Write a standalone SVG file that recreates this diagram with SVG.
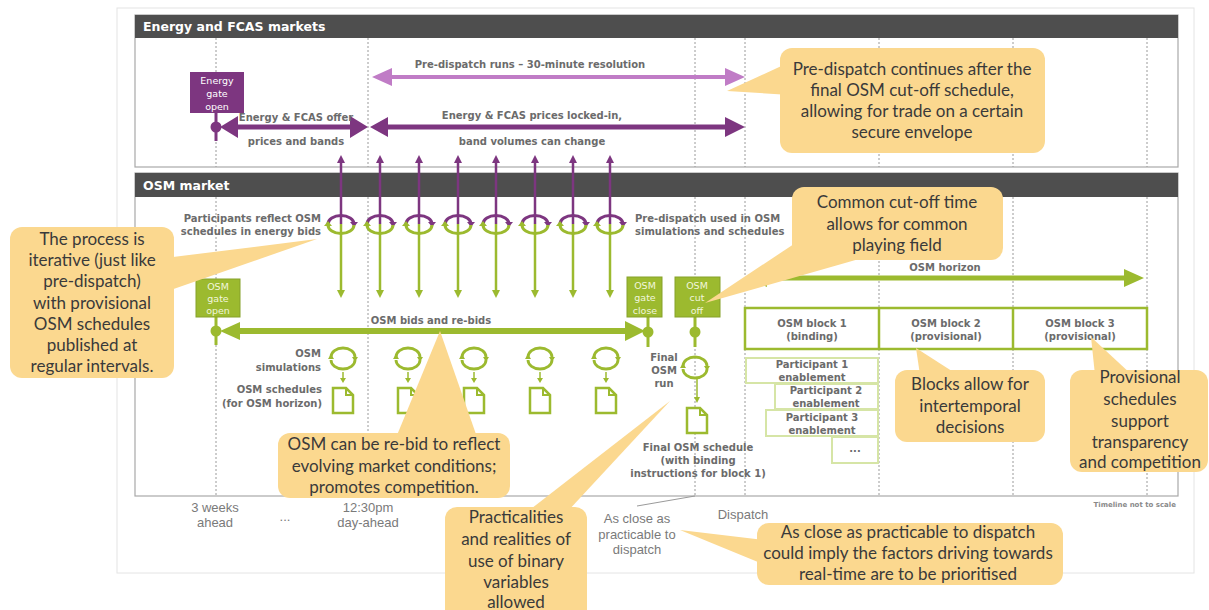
<svg xmlns="http://www.w3.org/2000/svg" xmlns:xlink="http://www.w3.org/1999/xlink" width="1209" height="610" viewBox="0 0 1209 610">
<style>
.lbl{font-family:"DejaVu Sans",Verdana,sans-serif;font-weight:bold;font-size:10px;fill:#6b6b6b}
.hdr{font-family:"DejaVu Sans",Verdana,sans-serif;font-weight:bold;font-size:12.5px;fill:#ffffff}
.box{font-family:"DejaVu Sans",Verdana,sans-serif;font-size:9.5px;fill:#f1f6dc}
.pbox{font-family:"DejaVu Sans",Verdana,sans-serif;font-size:9.5px;fill:#ffffff}
.tl{font-family:"Liberation Sans",Arial,sans-serif;font-size:13px;fill:#7a7a7a}
.co{font-family:Lato,"Liberation Sans",sans-serif;font-size:17px;fill:#3a3a3a}
.dash{stroke:#9a9a9a;stroke-width:1;stroke-dasharray:2,2}
.cof{fill:#fbd88f}
.grn{fill:#9cba2f}
.sect{fill:#ffffff;stroke:#a8a8a8;stroke-width:1.2}
.bar{fill:#4e4e4e}
</style>
<defs>
<g id="eye">
<path d="M-13,0 A13,8.5 0 0 1 13,0" fill="none" stroke="#7d3680" stroke-width="3"/>
<polygon points="9,-2 17,-2 13,3" fill="#7d3680"/>
<path d="M13,1 A13,8.5 0 0 1 -13,1" fill="none" stroke="#9cba2f" stroke-width="3"/>
<polygon points="-17,2 -9,2 -13,-3" fill="#9cba2f"/>
</g>
<g id="loop">
<path d="M-12,-1 A12,9 0 0 1 12,-1" fill="none" stroke="#9cba2f" stroke-width="2.8"/>
<path d="M12,2 A12,9 0 0 1 -12,2" fill="none" stroke="#9cba2f" stroke-width="2.8"/>
<polygon points="9,-1 15,-1 12,4" fill="#9cba2f"/>
<polygon points="-15,1 -9,1 -12,-4" fill="#9cba2f"/>
</g>
<g id="doc">
<path d="M0,0 H13 L20,7 V25 H0 Z" fill="#ffffff" stroke="#9cba2f" stroke-width="2.5" stroke-linejoin="miter"/>
<path d="M13,0 V7 H20" fill="none" stroke="#9cba2f" stroke-width="2"/>
</g>
<g id="darr">
<line x1="0" y1="-6" x2="0" y2="0" stroke="#9cba2f" stroke-width="1.5"/>
<polygon points="-3,0 3,0 0,5" fill="#9cba2f"/>
</g>
<g id="vup">
<line x1="0" y1="160" x2="0" y2="224" stroke="#7d3680" stroke-width="2.5"/>
<polygon points="-4,163 4,163 0,155" fill="#7d3680"/>
<line x1="0" y1="224" x2="0" y2="292" stroke="#9cba2f" stroke-width="2.5"/>
<polygon points="-4,290 4,290 0,298" fill="#9cba2f"/>
<use xlink:href="#eye" href="#eye" x="0" y="224"/>
</g>
</defs>

<rect x="117" y="8" width="1077" height="565" fill="#ffffff" stroke="#e4e4e4" stroke-width="1"/>

<g id="energy-section">
<rect class="sect" x="135" y="15" width="1043" height="152"/>
<rect class="bar" x="135" y="15" width="1043" height="23"/>
<text class="hdr" x="143" y="31">Energy and FCAS markets</text>
</g>
<g id="osm-section">
<rect class="sect" x="135" y="173" width="1043" height="323"/>
<rect class="bar" x="135" y="173" width="1043" height="24"/>
<text class="hdr" x="143" y="190">OSM market</text>
</g>

<g id="gridlines">
<line class="dash" x1="216" y1="38" x2="216" y2="167"/>
<line class="dash" x1="368" y1="38" x2="368" y2="167"/>
<line class="dash" x1="695" y1="38" x2="695" y2="167"/>
<line class="dash" x1="745" y1="38" x2="745" y2="167"/>
<line class="dash" x1="879" y1="38" x2="879" y2="167"/>
<line class="dash" x1="1013" y1="38" x2="1013" y2="167"/>
<line class="dash" x1="1147" y1="38" x2="1147" y2="167"/>
<line class="dash" x1="216" y1="197" x2="216" y2="496"/>
<line class="dash" x1="368" y1="197" x2="368" y2="496"/>
<line class="dash" x1="695" y1="197" x2="695" y2="496"/>
<line class="dash" x1="745" y1="197" x2="745" y2="496"/>
<line class="dash" x1="879" y1="197" x2="879" y2="496"/>
<line class="dash" x1="1013" y1="197" x2="1013" y2="496"/>
<line class="dash" x1="1147" y1="197" x2="1147" y2="496"/>
</g>

<g id="connectors">
<!-- pre-dispatch runs arrow -->
<polygon fill="#c07cc6" points="372,77 392,68 392,75 725,75 725,68 745,77 725,86 725,79 392,79 392,86"/>
<!-- offer prices arrow -->
<polygon fill="#7d3680" points="220,127 238,116 238,124.5 350,124.5 350,116 368,127 350,138 350,129.5 238,129.5 238,138"/>
<!-- prices locked-in arrow -->
<polygon fill="#7d3680" points="370,127 388,117 388,124.5 725,124.5 725,117 745,127 725,137 725,129.5 388,129.5 388,137"/>
<!-- energy gate open stem -->
<line x1="216" y1="113" x2="216" y2="141" stroke="#7d3680" stroke-width="3"/>
<circle cx="216" cy="127" r="5.5" fill="#7d3680"/>
<!-- vertical exchange arrows with eyes -->
<use xlink:href="#vup" href="#vup" x="341" y="0"/>
<use xlink:href="#vup" href="#vup" x="380" y="0"/>
<use xlink:href="#vup" href="#vup" x="419" y="0"/>
<use xlink:href="#vup" href="#vup" x="458" y="0"/>
<use xlink:href="#vup" href="#vup" x="496" y="0"/>
<use xlink:href="#vup" href="#vup" x="535" y="0"/>
<use xlink:href="#vup" href="#vup" x="573" y="0"/>
<use xlink:href="#vup" href="#vup" x="610" y="0"/>
<!-- OSM bids arrow -->
<polygon fill="#9cba2f" points="220,331 240,322 240,328 625,328 625,321 645,331 625,341 625,334 240,334 240,340"/>
<!-- gate stems -->
<line x1="216" y1="317" x2="216" y2="345" stroke="#9cba2f" stroke-width="3"/>
<circle cx="216" cy="331" r="5.5" fill="#9cba2f"/>
<line x1="648" y1="317" x2="648" y2="347" stroke="#9cba2f" stroke-width="3"/>
<circle cx="648" cy="332" r="5.5" fill="#9cba2f"/>
<line x1="695" y1="317" x2="695" y2="347" stroke="#9cba2f" stroke-width="3"/>
<circle cx="695" cy="332" r="5.5" fill="#9cba2f"/>
<!-- OSM horizon arrow -->
<polygon fill="#9cba2f" points="747,278 767,269 767,275.5 1124,275.5 1124,269 1144,278 1124,287 1124,280.5 767,280.5 767,287"/>
<!-- simulation loops -->
<use xlink:href="#loop" href="#loop" x="343" y="358"/>
<use xlink:href="#loop" href="#loop" x="408" y="358"/>
<use xlink:href="#loop" href="#loop" x="474" y="358"/>
<use xlink:href="#loop" href="#loop" x="540" y="358"/>
<use xlink:href="#loop" href="#loop" x="606" y="358"/>
<use xlink:href="#darr" href="#darr" x="343" y="378"/>
<use xlink:href="#darr" href="#darr" x="408" y="378"/>
<use xlink:href="#darr" href="#darr" x="474" y="378"/>
<use xlink:href="#darr" href="#darr" x="540" y="378"/>
<use xlink:href="#darr" href="#darr" x="606" y="378"/>
<use xlink:href="#doc" href="#doc" x="333" y="388"/>
<use xlink:href="#doc" href="#doc" x="398" y="388"/>
<use xlink:href="#doc" href="#doc" x="464" y="388"/>
<use xlink:href="#doc" href="#doc" x="530" y="388"/>
<use xlink:href="#doc" href="#doc" x="596" y="388"/>
<!-- final OSM run -->
<use xlink:href="#loop" href="#loop" x="695" y="367"/>
<line x1="697" y1="378" x2="697" y2="398" stroke="#9cba2f" stroke-width="1.5"/>
<polygon points="694,397 700,397 697,403" fill="#9cba2f"/>
<use xlink:href="#doc" href="#doc" x="687" y="408"/>
<!-- as close as practicable leader -->
<line x1="637" y1="506" x2="695" y2="496" stroke="#9a9a9a" stroke-width="1"/>
</g>

<g id="energy-gate-open">
<rect x="190" y="72" width="54" height="41" fill="#7d3680"/>
<text class="pbox" text-anchor="middle"><tspan x="217" y="84">Energy</tspan><tspan x="217" y="97">gate</tspan><tspan x="217" y="110">open</tspan></text>
</g>
<g id="energy-labels">
<text class="lbl" x="530" y="68" text-anchor="middle">Pre-dispatch runs – 30-minute resolution</text>
<text class="lbl" x="296" y="121" text-anchor="middle">Energy &amp; FCAS offer</text>
<text class="lbl" x="296" y="145" text-anchor="middle">prices and bands</text>
<text class="lbl" x="532" y="119" text-anchor="middle">Energy &amp; FCAS prices locked-in,</text>
<text class="lbl" x="532" y="145" text-anchor="middle">band volumes can change</text>
</g>
<g id="osm-labels">
<text class="lbl" text-anchor="end"><tspan x="321" y="222">Participants reflect OSM</tspan><tspan x="321" y="235">schedules in energy bids</tspan></text>
<text class="lbl"><tspan x="635" y="222">Pre-dispatch used in OSM</tspan><tspan x="635" y="235">simulations and schedules</tspan></text>
<text class="lbl" x="431" y="324" text-anchor="middle">OSM bids and re-bids</text>
<text class="lbl" x="945" y="271" text-anchor="middle">OSM horizon</text>
<text class="lbl" text-anchor="end"><tspan x="321" y="357">OSM</tspan><tspan x="321" y="371">simulations</tspan></text>
<text class="lbl" text-anchor="end"><tspan x="322" y="393">OSM schedules</tspan><tspan x="322" y="407">(for OSM horizon)</tspan></text>
<text class="lbl" text-anchor="middle"><tspan x="664" y="361">Final</tspan><tspan x="664" y="374">OSM</tspan><tspan x="664" y="387">run</tspan></text>
<text class="lbl" text-anchor="middle"><tspan x="698" y="451">Final OSM schedule</tspan><tspan x="698" y="464">(with binding</tspan><tspan x="698" y="477">instructions for block 1)</tspan></text>
</g>
<g id="osm-gate-open">
<rect x="196" y="279" width="44" height="38" class="grn" stroke="#86a12a" stroke-width="1"/>
<text class="box" text-anchor="middle"><tspan x="218" y="290">OSM</tspan><tspan x="218" y="302">gate</tspan><tspan x="218" y="314">open</tspan></text>
</g>
<g id="osm-gate-close">
<rect x="627" y="277" width="35" height="40" class="grn" stroke="#86a12a" stroke-width="1"/>
<text class="box" text-anchor="middle"><tspan x="645" y="289">OSM</tspan><tspan x="645" y="301">gate</tspan><tspan x="645" y="314">close</tspan></text>
</g>
<g id="osm-cut-off">
<rect x="675" y="277" width="45" height="40" class="grn" stroke="#86a12a" stroke-width="1"/>
<text class="box" text-anchor="middle"><tspan x="697" y="289">OSM</tspan><tspan x="697" y="301">cut</tspan><tspan x="697" y="314">off</tspan></text>
</g>
<g id="osm-blocks">
<rect x="745" y="308" width="402" height="41" fill="#ffffff" stroke="#9cba2f" stroke-width="2.5"/>
<line x1="879" y1="308" x2="879" y2="349" stroke="#9cba2f" stroke-width="2.5"/>
<line x1="1013" y1="308" x2="1013" y2="349" stroke="#9cba2f" stroke-width="2.5"/>
<text class="lbl" text-anchor="middle"><tspan x="812" y="327">OSM block 1</tspan><tspan x="812" y="340">(binding)</tspan></text>
<text class="lbl" text-anchor="middle"><tspan x="946" y="327">OSM block 2</tspan><tspan x="946" y="340">(provisional)</tspan></text>
<text class="lbl" text-anchor="middle"><tspan x="1080" y="327">OSM block 3</tspan><tspan x="1080" y="340">(provisional)</tspan></text>
</g>
<g id="participants">
<rect x="746" y="358" width="132" height="25" fill="#ffffff" stroke="#d6e5a6" stroke-width="2"/>
<text class="lbl" text-anchor="middle"><tspan x="812" y="368">Participant 1</tspan><tspan x="812" y="381">enablement</tspan></text>
<rect x="775" y="384" width="103" height="25" fill="#ffffff" stroke="#d6e5a6" stroke-width="2"/>
<text class="lbl" text-anchor="middle"><tspan x="826" y="394">Participant 2</tspan><tspan x="826" y="407">enablement</tspan></text>
<rect x="766" y="410" width="112" height="26" fill="#ffffff" stroke="#d6e5a6" stroke-width="2"/>
<text class="lbl" text-anchor="middle"><tspan x="822" y="421">Participant 3</tspan><tspan x="822" y="434">enablement</tspan></text>
<rect x="832" y="437" width="46" height="26" fill="#ffffff" stroke="#d6e5a6" stroke-width="2"/>
<text class="lbl" x="855" y="452" text-anchor="middle">...</text>
</g>
<g id="timeline">
<text class="tl" text-anchor="middle"><tspan x="215" y="512">3 weeks</tspan><tspan x="215" y="527">ahead</tspan></text>
<text class="tl" x="285" y="521" text-anchor="middle">...</text>
<text class="tl" text-anchor="middle"><tspan x="368" y="512">12:30pm</tspan><tspan x="368" y="527">day-ahead</tspan></text>
<text class="tl" x="743" y="519" text-anchor="middle">Dispatch</text>
<text class="tl" text-anchor="middle"><tspan x="637" y="523">As close as</tspan><tspan x="637" y="539">practicable to</tspan><tspan x="637" y="554">dispatch</tspan></text>
<text x="1176" y="507" text-anchor="end" style="font-family:'DejaVu Sans',sans-serif;font-weight:bold;font-size:7px;fill:#8a8a8a">Timeline not to scale</text>
</g>

<g id="callout-predispatch">
<polygon class="cof" points="727,91 790,62 790,95"/>
<rect class="cof" x="780" y="48" width="265" height="105" rx="12"/>
<text class="co" text-anchor="middle"><tspan x="912" y="75">Pre-dispatch continues after the</tspan><tspan x="912" y="96">final OSM cut-off schedule,</tspan><tspan x="912" y="117">allowing for trade on a certain</tspan><tspan x="912" y="138">secure envelope</tspan></text>
</g>
<g id="callout-iterative">
<polygon class="cof" points="317,239 165,258 165,292"/>
<rect class="cof" x="10" y="227" width="164" height="151" rx="12"/>
<text class="co" text-anchor="middle"><tspan x="92" y="245">The process is</tspan><tspan x="92" y="266">iterative (just like</tspan><tspan x="92" y="287">pre-dispatch)</tspan><tspan x="92" y="309">with provisional</tspan><tspan x="92" y="330">OSM schedules</tspan><tspan x="92" y="351">published at</tspan><tspan x="92" y="372">regular intervals.</tspan></text>
</g>
<g id="callout-cutoff">
<polygon class="cof" points="705,303 800,240 873,255"/>
<rect class="cof" x="792" y="187" width="211" height="73" rx="12"/>
<text class="co" text-anchor="middle"><tspan x="897" y="208">Common cut-off time</tspan><tspan x="897" y="230">allows for common</tspan><tspan x="897" y="251">playing field</tspan></text>
</g>
<g id="callout-rebid">
<polygon class="cof" points="440,331 395,440 478,440"/>
<rect class="cof" x="278" y="433" width="232" height="65" rx="12"/>
<text class="co" text-anchor="middle"><tspan x="394" y="450">OSM can be re-bid to reflect</tspan><tspan x="394" y="472">evolving market conditions;</tspan><tspan x="394" y="493">promotes competition.</tspan></text>
</g>
<g id="callout-binary">
<polygon class="cof" points="670,401 527,512 567,512"/>
<rect class="cof" x="445" y="507" width="142" height="115" rx="12"/>
<text class="co" text-anchor="middle"><tspan x="516" y="523">Practicalities</tspan><tspan x="516" y="545">and realities of</tspan><tspan x="516" y="567">use of binary</tspan><tspan x="516" y="588">variables</tspan><tspan x="516" y="608">allowed</tspan></text>
</g>
<g id="callout-realtime">
<polygon class="cof" points="680,530 765,540 765,565"/>
<rect class="cof" x="757" y="523" width="306" height="62" rx="12"/>
<text class="co" text-anchor="middle"><tspan x="908" y="538">As close as practicable to dispatch</tspan><tspan x="908" y="559">could imply the factors driving towards</tspan><tspan x="908" y="580">real-time are to be prioritised</tspan></text>
</g>
<g id="callout-blocks">
<polygon class="cof" points="916,348 920,375 958,375"/>
<rect class="cof" x="895" y="370" width="150" height="72" rx="12"/>
<text class="co" text-anchor="middle"><tspan x="970" y="390">Blocks allow for</tspan><tspan x="970" y="412">intertemporal</tspan><tspan x="970" y="433">decisions</tspan></text>
</g>
<g id="callout-provisional">
<polygon class="cof" points="1091,337 1095,375 1132,375"/>
<rect class="cof" x="1070" y="370" width="138" height="102" rx="12"/>
<text class="co" text-anchor="middle"><tspan x="1140" y="383">Provisional</tspan><tspan x="1140" y="405">schedules</tspan><tspan x="1140" y="427">support</tspan><tspan x="1140" y="448">transparency</tspan><tspan x="1140" y="468">and competition</tspan></text>
</g>
</svg>
